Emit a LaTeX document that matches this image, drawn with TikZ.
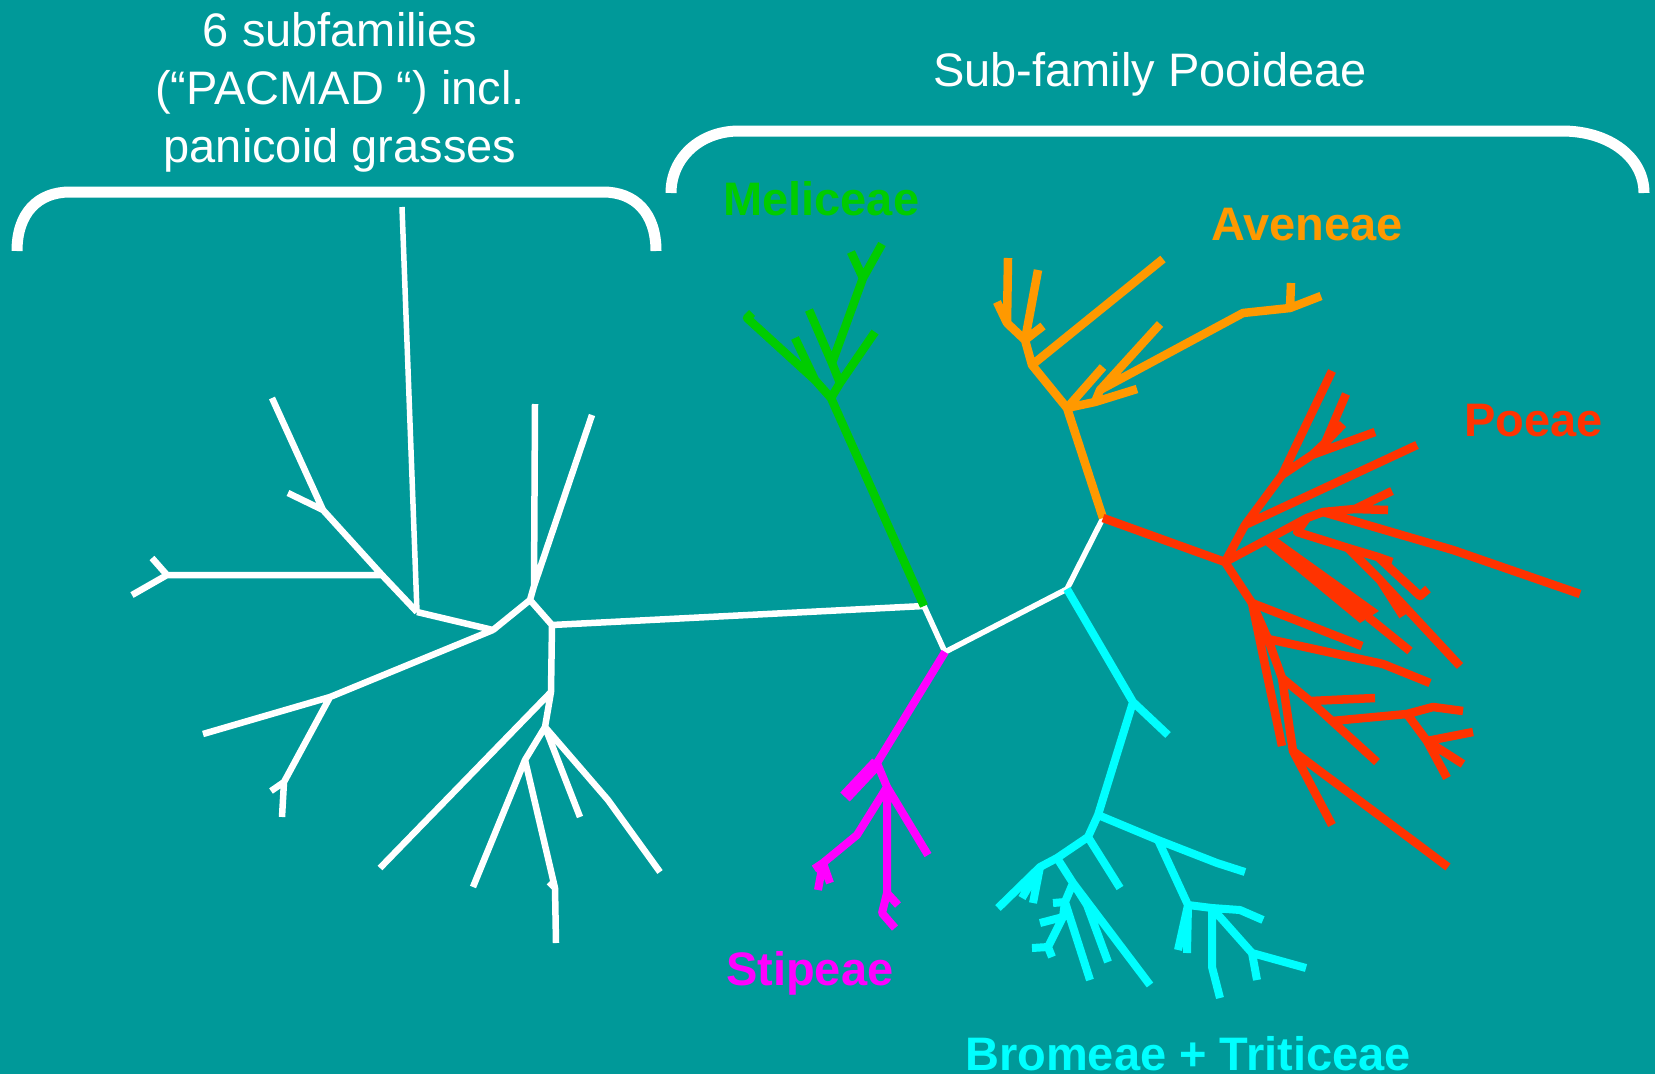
\documentclass[tikz,border=0pt]{standalone}
\usepackage{fontspec}
\setmainfont{Liberation Sans}
\definecolor{bgteal}{RGB}{0,153,153}
\definecolor{melgreen}{RGB}{0,204,0}
\definecolor{aveorange}{RGB}{255,153,0}
\definecolor{poered}{RGB}{255,51,0}
\definecolor{stipmag}{RGB}{255,0,255}
\definecolor{bromcyan}{RGB}{0,255,255}
\begin{document}
\begin{tikzpicture}[x=1pt,y=-1pt,line cap=butt,line join=round,
  brace/.style={draw=white,line width=11pt},
  wbr/.style={draw=white,line width=6.5pt},
  gbr/.style={draw=melgreen,line width=8.5pt},
  obr/.style={draw=aveorange,line width=8.5pt},
  rbr/.style={draw=poered,line width=8.5pt},
  mbr/.style={draw=stipmag,line width=8pt},
  cbr/.style={draw=bromcyan,line width=8pt},
  head/.style={text=white,inner sep=0pt,anchor=base,font=\fontsize{47}{56}\selectfont},
  tribe/.style={inner sep=0pt,anchor=base west,font=\fontsize{47}{56}\selectfont\bfseries}]
\useasboundingbox (0,0) rectangle (1655,1074);
\fill[bgteal] (0,0) rectangle (1655,1074);

% headings
\node[head] (h1) at (340,46) {6 subfamilies};
\node[head] (h2) at (340,104) {(“PACMAD “) incl.};
\node[head] (h3) at (340,162) {panicoid grasses};
\node[head] (h4) at (1150,86) {Sub-family Pooideae};

% brackets
\coordinate (lb1) at (17,251);  \coordinate (lb2) at (70,192);
\coordinate (lb3) at (603,192); \coordinate (lb4) at (656,251);
\draw[brace] (lb1) .. controls (17,213) and (38,192) .. (lb2) -- (lb3)
  .. controls (635,192) and (656,213) .. (lb4);
\coordinate (rb1) at (671,193);  \coordinate (rb2) at (739,131);
\coordinate (rb3) at (1562,131); \coordinate (rb4) at (1644,193);
\draw[brace] (rb1) .. controls (671,158) and (700,131) .. (rb2) -- (rb3)
  .. controls (1610,131) and (1644,158) .. (rb4);

% tribe labels
\node[tribe,text=melgreen] (lmel) at (723,215) {Meliceae};
\node[tribe,text=aveorange] (lave) at (1211,240) {Aveneae};
\node[tribe,text=poered] (lpoe) at (1464,436) {Poeae};
\node[tribe,text=stipmag] (lsti) at (726,985) {Stipeae};
\node[tribe,text=bromcyan] (lbro) at (965,1070) {Bromeae + Triticeae};

% ---- PACMAD clade (white)
\coordinate (wTop) at (402,207); \coordinate (wA) at (417,612);
\coordinate (wB) at (382,575);   \coordinate (wC) at (323,510);
\coordinate (wC1) at (272,398);  \coordinate (wC2) at (288,493);
\coordinate (wD) at (167,575);   \coordinate (wD1) at (152,558);
\coordinate (wD2) at (132,595);  \coordinate (wE) at (493,630);
\coordinate (wF) at (530,600);   \coordinate (wG) at (534,586);
\coordinate (wG1) at (535,404);  \coordinate (wG2) at (592,415);
\coordinate (wH) at (552,625);   \coordinate (wI) at (551,692);
\coordinate (wI1) at (380,868);  \coordinate (wK) at (545,727);
\coordinate (wL) at (525,760);   \coordinate (wL1) at (473,887);
\coordinate (wM) at (555,888);   \coordinate (wM1) at (556,943);
\coordinate (wM2) at (549,882);  \coordinate (wK1) at (580,817);
\coordinate (wN) at (608,800);   \coordinate (wN1) at (660,872);
\coordinate (wP) at (330,697);   \coordinate (wP1) at (203,734);
\coordinate (wQ) at (284,782);   \coordinate (wQ1) at (282,817);
\coordinate (wQ2) at (271,791);
% backbone
\coordinate (j1) at (924,606); \coordinate (j2) at (945,652);
\coordinate (j3) at (1067,589); \coordinate (j4) at (1103,518);

\draw[wbr,line width=5.5pt] (wTop) -- (wA);
\draw[wbr] (wA) -- (wB) -- (wC) -- (wC1) (wC) -- (wC2)
  (wB) -- (wD) -- (wD1) (wD) -- (wD2)
  (wA) -- (wE) -- (wF) -- (wG) -- (wG1) (wG) -- (wG2)
  (wF) -- (wH) -- (j1) (wH) -- (wI) -- (wI1) (wI) -- (wK) -- (wL) -- (wL1)
  (wL) -- (wM) -- (wM1) (wM) -- (wM2) (wK) -- (wK1) (wK) -- (wN) -- (wN1)
  (wE) -- (wP) -- (wP1) (wP) -- (wQ) -- (wQ1) (wQ) -- (wQ2);
\draw[wbr,line width=5.5pt] (j1) -- (j2) -- (j3) -- (j4);

% ---- Meliceae
\coordinate (m0) at (831,398); \coordinate (ma) at (815,380);
\coordinate (ma1) at (747,318); \coordinate (ma0) at (752,313);
\coordinate (ma2) at (795,338); \coordinate (mb) at (840,383);
\coordinate (mb1) at (875,332); \coordinate (mc) at (832,363);
\coordinate (mc1) at (809,310); \coordinate (md) at (863,278);
\coordinate (md1) at (882,244); \coordinate (md2) at (851,252);
\draw[gbr] (j1) -- (m0) -- (ma) -- (ma1) -- (ma0) (ma) -- (ma2)
  (m0) -- (mb) -- (mb1) (mb) -- (mc) -- (mc1) (mc) -- (md) -- (md1) (md) -- (md2);

% ---- Aveneae
\coordinate (a0) at (1067,408); \coordinate (a1) at (1032,365);
\coordinate (a2) at (1025,340); \coordinate (a3) at (1007,323);
\coordinate (a31) at (1008,258); \coordinate (a32) at (997,302);
\coordinate (a21) at (1038,270); \coordinate (a22) at (1043,326);
\coordinate (a11) at (1163,259); \coordinate (a01) at (1103,367);
\coordinate (a5) at (1095,402); \coordinate (a51) at (1137,389);
\coordinate (a6) at (1100,390); \coordinate (a61) at (1160,324);
\coordinate (a7) at (1243,313); \coordinate (a8) at (1290,308);
\coordinate (a81) at (1291,283); \coordinate (a82) at (1321,296);
\draw[obr] (j4) -- (a0) -- (a1) -- (a2) -- (a3) -- (a31) (a3) -- (a32)
  (a2) -- (a21) (a2) -- (a22) (a1) -- (a11) (a0) -- (a01)
  (a0) -- (a5) -- (a51) (a5) -- (a6) -- (a61) (a6) -- (a7) -- (a8) -- (a81) (a8) -- (a82);

% ---- Poeae
\coordinate (p0) at (1225,562); \coordinate (p1) at (1245,525);
\coordinate (p2) at (1282,475); \coordinate (p21) at (1332,371);
\coordinate (p3) at (1312,455); \coordinate (p31) at (1375,432);
\coordinate (p4) at (1325,443); \coordinate (p41) at (1346,394);
\coordinate (p42) at (1343,424); \coordinate (p11) at (1417,445);
\coordinate (p5) at (1268,539); \coordinate (p6) at (1307,518);
\coordinate (p7) at (1323,512); \coordinate (p8) at (1355,509);
\coordinate (p81) at (1392,491); \coordinate (p82) at (1388,510);
\coordinate (p9) at (1453,550); \coordinate (p91) at (1580,594);
\coordinate (p10) at (1297,532); \coordinate (p11n) at (1348,548);
\coordinate (p12) at (1378,557); \coordinate (p121) at (1392,562);
\coordinate (p13) at (1420,596); \coordinate (p131) at (1428,589);
\coordinate (p14) at (1380,580); \coordinate (p141) at (1460,666);
\coordinate (p142) at (1403,616);
\coordinate (p15) at (1368,617); \coordinate (p151) at (1410,651);
\coordinate (p16) at (1252,603); \coordinate (p161) at (1362,646);
\coordinate (p162) at (1282,746); \coordinate (p18) at (1268,639);
\coordinate (p18k) at (1383,664); \coordinate (p181) at (1430,683);
\coordinate (p19) at (1282,678); \coordinate (p20) at (1310,701);
\coordinate (p201) at (1375,698); \coordinate (p21n) at (1332,721);
\coordinate (p211) at (1377,762); \coordinate (p22) at (1407,714);
\coordinate (p23) at (1433,707); \coordinate (p231) at (1463,711);
\coordinate (p24) at (1427,741); \coordinate (p241) at (1473,732);
\coordinate (p242) at (1463,764); \coordinate (p243) at (1447,778);
\coordinate (p25) at (1293,751); \coordinate (p251) at (1332,825);
\coordinate (p252) at (1448,867);
\draw[rbr] (j4) -- (p0) -- (p1) -- (p2) -- (p21) (p2) -- (p3) -- (p31)
  (p3) -- (p4) -- (p41) (p4) -- (p42) (p1) -- (p11)
  (p0) -- (p5) -- (p6) -- (p7) -- (p8) -- (p81) (p8) -- (p82)
  (p7) -- (p9) -- (p91)
  (p6) -- (p10) -- (p11n) -- (p12) -- (p121) (p12) -- (p13) -- (p131)
  (p11n) -- (p14) -- (p141) (p14) -- (p142)
  (p15) -- (p151)
  (p0) -- (p16) -- (p161) (p16) -- (p162) (p16) -- (p18) -- (p18k) -- (p181)
  (p18) -- (p19) -- (p20) -- (p201) (p20) -- (p21n) -- (p211)
  (p21n) -- (p22) -- (p23) -- (p231) (p22) -- (p24) -- (p241) (p24) -- (p242) (p24) -- (p243)
  (p19) -- (p25) -- (p251) (p25) -- (p252);
\fill[poered] (1263,543) -- (1273,535) -- (1379,611) -- (1360,623) -- cycle;

% ---- Stipeae
\coordinate (s0) at (877,763); \coordinate (sw) at (845,797);
\coordinate (s1) at (887,787); \coordinate (s11) at (928,855);
\coordinate (s2) at (857,835); \coordinate (s3) at (823,863);
\coordinate (s31) at (818,890); \coordinate (s32) at (830,883);
\coordinate (s33) at (814,869); \coordinate (s4) at (887,893);
\coordinate (s41) at (898,905); \coordinate (s5) at (882,913);
\coordinate (s51) at (895,928);
\draw[mbr] (j2) -- (s0) -- (s1) -- (s11) (s1) -- (s2) -- (s3) -- (s31) (s3) -- (s32) (s3) -- (s33)
  (s1) -- (s4) -- (s41) (s4) -- (s5) -- (s51);
\draw[mbr,line width=13pt] (s0) -- (sw);

% ---- Bromeae + Triticeae
\coordinate (b0) at (1133,702); \coordinate (b01) at (1168,735);
\coordinate (b1) at (1098,815); \coordinate (b2) at (1088,837);
\coordinate (b21) at (1120,888); \coordinate (b3) at (1057,858);
\coordinate (b4) at (1040,867); \coordinate (b41) at (998,908);
\coordinate (b42) at (1033,903); \coordinate (b43) at (1022,898);
\coordinate (b5) at (1073,883); \coordinate (b51) at (1150,985);
\coordinate (b6) at (1087,905); \coordinate (b61) at (1108,962);
\coordinate (b7) at (1065,902); \coordinate (b71) at (1090,980);
\coordinate (b72) at (1053,903); \coordinate (b8) at (1063,917);
\coordinate (b81) at (1040,923); \coordinate (b9) at (1048,947);
\coordinate (b91) at (1032,948); \coordinate (b92) at (1052,957);
\coordinate (b10) at (1158,840); \coordinate (b10k) at (1217,863);
\coordinate (b101) at (1245,872); \coordinate (b11) at (1188,905);
\coordinate (b111) at (1178,950); \coordinate (b112) at (1187,953);
\coordinate (b12) at (1212,908); \coordinate (b12k) at (1240,910);
\coordinate (b121) at (1263,920); \coordinate (b13) at (1212,967);
\coordinate (b131) at (1220,998); \coordinate (b14) at (1252,953);
\coordinate (b141) at (1306,968); \coordinate (b142) at (1257,980);
\draw[cbr] (j3) -- (b0) -- (b01) (b0) -- (b1) -- (b2) -- (b21)
  (b2) -- (b3) -- (b4) -- (b41) (b4) -- (b42) (b4) -- (b43)
  (b3) -- (b5) -- (b51) (b5) -- (b6) -- (b61) (b5) -- (b7) -- (b71) (b7) -- (b72)
  (b7) -- (b8) -- (b81) (b8) -- (b9) -- (b91) (b9) -- (b92)
  (b1) -- (b10) -- (b10k) -- (b101) (b10) -- (b11) -- (b111) (b11) -- (b112)
  (b11) -- (b12) -- (b12k) -- (b121) (b12) -- (b13) -- (b131)
  (b12) -- (b14) -- (b141) (b14) -- (b142);
\end{tikzpicture}
\end{document}
